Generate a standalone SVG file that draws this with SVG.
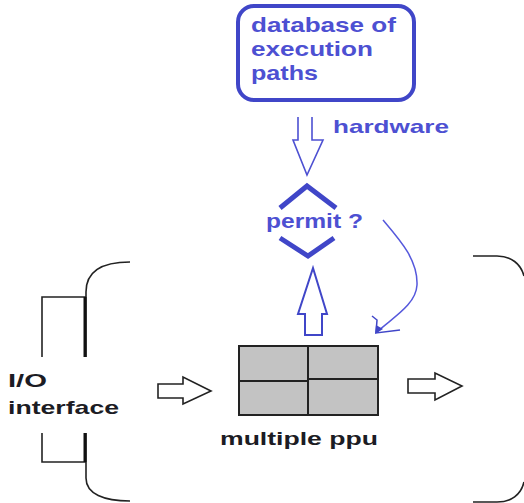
<svg xmlns="http://www.w3.org/2000/svg" width="524" height="503" viewBox="0 0 524 503">
<style>
.bt{font-family:"Liberation Sans",Arial,sans-serif;font-weight:bold;fill:#4d50d2}
.dt{font-family:"Liberation Sans",Arial,sans-serif;font-weight:bold;fill:#1c1c24}
.blk{fill:none;stroke:#222;stroke-width:1.6}
.hol{fill:#fff;stroke:#222;stroke-width:1.6;stroke-linejoin:miter}
.cell{fill:#c3c3c3;stroke:#222;stroke-width:2}
</style>
<rect width="524" height="503" fill="#fff"/>
<g id="database">
<rect x="238" y="6" width="176" height="94" rx="16" ry="16" fill="#fff" stroke="#4046c8" stroke-width="4"/>
<text class="bt" font-size="21" x="251" y="32" textLength="145" lengthAdjust="spacingAndGlyphs">database of</text>
<text class="bt" font-size="21" x="251" y="56" textLength="122" lengthAdjust="spacingAndGlyphs">execution</text>
<text class="bt" font-size="21" x="251" y="80" textLength="67" lengthAdjust="spacingAndGlyphs">paths</text>
</g>
<g id="permit">
<polyline points="280,208 307,186 336,208" fill="none" stroke="#4046c8" stroke-width="5"/>
<polyline points="280,238 308,256 334,238" fill="none" stroke="#4046c8" stroke-width="5"/>
<text class="bt" font-size="20" x="266" y="228" textLength="97" lengthAdjust="spacingAndGlyphs">permit ?</text>
</g>
<g id="ppu">
<rect class="cell" x="239" y="346" width="69" height="35"/>
<rect class="cell" x="308" y="346" width="70" height="33"/>
<rect class="cell" x="239" y="381" width="69" height="34"/>
<rect class="cell" x="308" y="379" width="70" height="36"/>
<text class="dt" font-size="19" x="220" y="445" textLength="158" lengthAdjust="spacingAndGlyphs">multiple ppu</text>
</g>
<g id="io">
<path class="blk" d="M42,357 V297 H86"/>
<path class="blk" d="M42,433 V462 H86"/>
<path class="blk" d="M130,262 C104,262 86,270 86,292 V357"/>
<path class="blk" d="M86,433 V478 C86,494 104,501 130,501"/>
<line x1="85" y1="297" x2="85" y2="357" stroke="#111" stroke-width="3"/>
<line x1="85" y1="433" x2="85" y2="462" stroke="#111" stroke-width="3"/>
<path class="blk" d="M473,256 H497 C511,256 521,264 524,276"/>
<path class="blk" d="M524,482 C521,495 511,502 497,502 H473"/>
<text class="dt" font-size="19" x="8" y="387" textLength="39" lengthAdjust="spacingAndGlyphs">I/O</text>
<text class="dt" font-size="19" x="8" y="414" textLength="111" lengthAdjust="spacingAndGlyphs">interface</text>
</g>
<g id="connectors">
<polyline points="298,117 298,140 293,140 307,175 323,140 312,140 312,117" fill="#fff" stroke="#4d50d2" stroke-width="1.6"/>
<text class="bt" font-size="19" x="333" y="133" textLength="116" lengthAdjust="spacingAndGlyphs">hardware</text>
<polygon points="313,268 327,314 322,314 322,335 305,335 305,314 298,314" fill="#fff" stroke="#4046c8" stroke-width="2"/>
<path d="M383,220 C400,240 418,260 417,285 C416,305 392,318 377,332" fill="none" stroke="#5558dc" stroke-width="1.5"/>
<path d="M372,316 L377,320 L376,333 L400,330" fill="none" stroke="#4046c8" stroke-width="1.5"/>
<polygon points="375,334 376,325 383,329" fill="#4046c8"/>
<polygon class="hol" points="158,384 183,384 183,377 211,391 183,404 183,398 158,398"/>
<polygon class="hol" points="408,379 435,379 435,373 462,386 435,400 435,393 408,393"/>
</g>
</svg>
